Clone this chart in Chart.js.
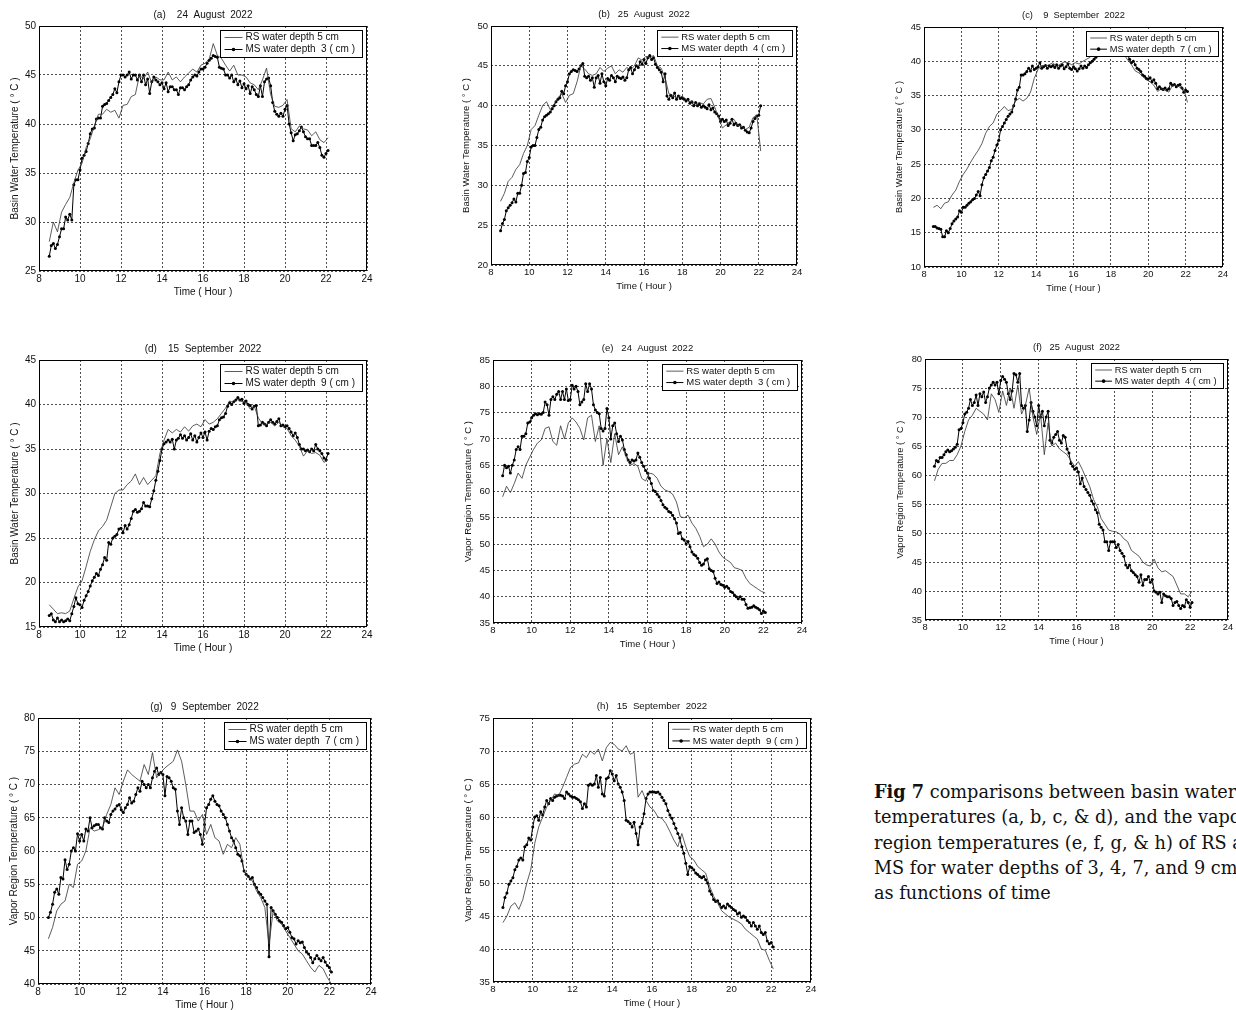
<!DOCTYPE html>
<html><head><meta charset="utf-8">
<script src="https://cdn.jsdelivr.net/npm/chart.js@4.4.1/dist/chart.umd.min.js"></script>
<style>
html,body{margin:0;padding:0;background:#fff;overflow:hidden;width:1236px;height:1010px;position:relative;}
.panel{position:absolute;}
#caption{position:absolute;left:874px;top:779px;font-family:"DejaVu Serif",serif;font-size:17.7px;line-height:25.3px;color:#111;white-space:nowrap;}
</style></head><body>
<div id="caption"><b>Fig 7</b> comparisons between basin water<br>temperatures (a, b, c, &amp; d), and the vapor<br>region temperatures (e, f, g, &amp; h) of RS and<br>MS for water depths of 3, 4, 7, and 9 cm<br>as functions of time</div>
<script>
// ---------- time axes (hours) ----------
const timeMS = [
8.5,8.6,8.7,8.8,8.9,
9.0,9.1,9.2,9.3,9.4,9.5,9.6,9.7,9.8,9.9,
10.0,10.1,10.2,10.3,10.4,10.5,10.6,10.7,10.8,10.9,
11.0,11.1,11.2,11.3,11.4,11.5,11.6,11.7,11.8,11.9,
12.0,12.1,12.2,12.3,12.4,12.5,12.6,12.7,12.8,12.9,
13.0,13.1,13.2,13.3,13.4,13.5,13.6,13.7,13.8,13.9,
14.0,14.1,14.2,14.3,14.4,14.5,14.6,14.7,14.8,14.9,
15.0,15.1,15.2,15.3,15.4,15.5,15.6,15.7,15.8,15.9,
16.0,16.1,16.2,16.3,16.4,16.5,16.6,16.7,16.8,16.9,
17.0,17.1,17.2,17.3,17.4,17.5,17.6,17.7,17.8,17.9,
18.0,18.1,18.2,18.3,18.4,18.5,18.6,18.7,18.8,18.9,
19.0,19.1,19.2,19.3,19.4,19.5,19.6,19.7,19.8,19.9,
20.0,20.1,20.2,20.3,20.4,20.5,20.6,20.7,20.8,20.9,
21.0,21.1,21.2,21.3,21.4,21.5,21.6,21.7,21.8,21.9,
22.0,22.1];
const timeRS = [
8.5,8.7,8.9,
9.1,9.3,9.5,9.7,9.9,
10.1,10.3,10.5,10.7,10.9,
11.1,11.3,11.5,11.7,11.9,
12.1,12.3,12.5,12.7,12.9,
13.1,13.3,13.5,13.7,13.9,
14.1,14.3,14.5,14.7,14.9,
15.1,15.3,15.5,15.7,15.9,
16.1,16.3,16.5,16.7,16.9,
17.1,17.3,17.5,17.7,17.9,
18.1,18.3,18.5,18.7,18.9,
19.1,19.3,19.5,19.7,19.9,
20.1,20.3,20.5,20.7,20.9,
21.1,21.3,21.5,21.7,21.9,
22.1];

// ---------- (a) basin water, 24 August 2022 ----------
const msA = [
26.5,27.6,27.8,27.3,27.7,
28.5,29.3,29.3,30.5,30.2,30.8,30.2,33.8,34.3,34.3,
35.3,36.5,36.8,37.2,38.0,39.0,39.5,39.6,40.5,40.6,
40.6,41.8,42.0,42.1,42.4,42.7,43.0,43.6,43.2,44.3,
45.0,45.0,44.8,45.0,45.3,44.6,45.0,45.0,44.5,45.0,
44.3,45.0,44.0,44.6,43.1,44.3,44.8,44.5,44.3,44.0,
44.2,43.6,44.2,43.3,43.8,43.8,43.5,43.5,43.0,43.7,
43.7,43.5,43.8,44.0,44.5,44.8,45.0,44.9,45.3,45.6,
45.6,45.8,46.2,46.5,46.7,47.0,46.9,46.8,45.8,45.7,
45.6,45.0,45.0,44.7,45.0,44.3,44.6,44.0,44.4,43.7,
44.1,43.6,43.9,43.1,43.8,43.5,43.0,42.8,43.9,42.8,
44.3,44.6,44.7,43.9,42.2,41.3,41.0,40.8,41.1,40.8,
41.5,41.9,40.0,39.1,38.3,38.9,39.0,39.3,39.7,39.2,
38.7,38.5,38.5,37.8,37.8,37.8,38.1,37.6,36.8,36.6,
37.0,37.3];
const rsA = [
28.0,30.0,29.0,
31.0,31.8,32.5,34.0,35.3,
36.0,37.6,38.5,39.8,41.0,
41.0,41.5,41.2,41.4,40.6,
41.9,42.0,42.8,43.0,45.0,
44.6,45.3,44.2,44.8,44.5,
44.5,45.3,44.5,44.8,44.3,
44.8,45.2,45.6,45.3,46.0,
46.2,46.6,48.2,47.0,46.7,
46.0,45.4,46.0,45.0,45.0,
44.8,44.2,44.0,43.5,44.5,
45.7,43.0,41.8,41.7,41.9,
42.5,39.5,39.2,39.8,39.5,
39.4,38.8,39.2,38.4,38.1,
38.6];

// ---------- (b) basin water, 25 August 2022 ----------
const msB = [
24.3,25.2,25.7,26.8,27.2,
27.5,27.8,28.3,27.9,29.0,29.0,30.0,31.5,31.6,33.0,
33.5,34.8,35.0,35.0,36.0,37.0,37.3,38.2,38.6,38.8,
39.0,39.2,39.6,40.0,40.5,40.8,41.0,41.8,41.5,42.5,
43.0,44.0,44.3,44.5,44.4,44.3,44.6,45.0,45.3,43.7,
43.5,43.7,43.2,43.5,42.3,43.5,43.8,42.8,44.0,43.0,
42.5,43.4,43.2,43.8,43.5,43.0,43.7,43.5,43.4,43.6,
43.2,43.5,44.5,44.8,44.0,44.5,45.0,44.8,45.5,45.2,
45.8,45.3,46.0,46.3,45.8,46.0,45.2,44.8,44.5,44.2,
43.0,44.0,41.2,40.8,41.3,41.0,41.6,40.8,41.2,40.9,
41.0,40.8,40.6,40.8,40.3,40.5,40.0,40.4,40.0,40.2,
39.8,40.0,39.8,39.6,40.1,39.5,39.7,39.2,39.0,38.7,
38.0,38.3,38.0,38.2,37.5,37.8,38.3,37.6,37.8,37.5,
37.6,37.2,37.3,36.9,36.7,36.6,37.2,38.0,38.4,38.7,
38.8,40.0];
const rsB = [
28.0,29.0,30.5,
31.0,32.0,32.6,34.0,35.0,
37.0,37.5,38.8,40.0,40.5,
39.5,40.2,41.0,41.5,40.4,
41.3,41.5,43.0,45.0,44.6,
44.0,43.8,44.0,44.8,44.3,
44.7,45.0,44.0,44.5,44.2,
44.8,44.5,45.0,46.0,45.7,
46.2,46.0,46.3,45.0,44.7,
43.5,41.5,41.3,41.0,41.2,
41.0,40.6,40.5,40.2,40.4,
40.2,40.8,40.9,39.8,38.5,
37.2,37.6,38.0,38.3,37.5,
37.5,37.0,37.3,38.5,38.8,
34.3];

// ---------- (c) basin water, 9 September 2022 ----------
const msC = [
15.9,15.9,15.7,15.6,15.5,
14.4,14.4,15.3,15.0,15.6,16.3,16.7,17.0,17.3,18.2,
18.0,18.7,18.7,19.0,19.3,19.5,19.8,20.0,20.5,21.0,
20.4,22.0,23.0,23.5,24.0,24.5,25.5,26.0,27.0,27.8,
28.5,30.0,30.5,31.0,31.5,32.0,32.3,32.6,33.5,34.5,
35.8,36.2,38.0,38.0,38.2,38.5,39.0,38.6,39.3,38.8,
39.0,39.2,39.8,39.0,39.2,39.4,39.0,39.3,39.2,39.4,
39.1,39.5,39.0,39.3,39.5,38.9,39.2,39.6,39.0,38.8,
39.2,38.9,38.6,38.9,39.3,39.0,39.3,39.1,39.5,39.8,
40.0,40.3,40.6,41.2,41.5,41.8,41.6,41.8,42.0,41.8,
41.8,42.0,41.8,41.6,41.8,41.7,41.5,41.6,41.3,40.9,
40.3,39.8,40.0,39.5,39.0,38.8,38.5,38.0,37.8,37.5,
37.4,37.6,37.0,37.3,36.8,36.0,36.3,36.0,35.9,36.1,
35.8,36.0,36.8,36.5,36.6,36.3,36.5,36.6,36.1,35.5,
35.8,35.6];
const rsC = [
18.7,19.0,18.5,
19.3,19.5,20.5,21.2,22.5,
23.5,24.3,25.3,26.2,27.0,
28.0,29.5,30.5,31.0,32.3,
32.8,33.4,32.8,33.0,34.2,
34.6,34.2,34.6,35.5,37.5,
38.8,39.4,39.3,39.5,39.8,
39.2,39.6,39.9,39.8,39.5,
39.8,39.6,40.0,40.3,40.6,
41.3,41.6,41.8,41.6,41.7,
41.5,41.6,41.3,41.0,40.2,
39.5,38.6,38.3,37.8,37.3,
37.0,36.5,35.6,36.0,35.8,
35.5,36.5,36.5,36.2,36.0,
34.0];

// ---------- (d) basin water, 15 September 2022 ----------
const msD = [
16.3,16.5,15.8,15.6,16.0,
15.6,15.8,15.6,15.7,15.9,15.7,16.5,17.3,18.3,17.6,
17.5,17.2,18.0,18.5,19.0,19.6,20.2,20.6,21.0,20.8,
21.5,22.0,22.8,22.5,24.5,24.3,25.0,25.2,25.4,26.0,
26.1,25.6,26.4,26.0,26.5,27.2,28.0,28.2,27.9,28.0,
28.3,29.0,28.6,28.6,28.5,29.4,30.3,31.5,32.5,33.7,
35.0,35.6,35.8,36.0,35.8,36.1,35.0,36.0,36.2,36.6,
36.2,36.5,36.0,36.3,36.7,36.0,36.5,35.8,36.3,36.8,
36.3,36.9,36.0,37.0,37.3,37.2,37.5,37.6,38.3,38.5,
38.6,39.0,39.8,40.2,40.0,40.3,40.5,40.8,40.5,40.6,
40.1,40.4,40.0,39.9,39.5,39.8,39.9,37.6,37.7,38.0,
37.8,37.6,38.0,38.3,38.0,37.8,38.1,38.4,37.6,37.7,
37.5,37.6,37.3,36.9,36.5,36.8,36.3,35.5,35.0,35.0,
34.8,34.9,34.7,35.0,34.8,35.5,35.0,34.8,34.5,34.0,
33.8,34.5];
const rsD = [
17.5,17.0,16.5,
16.6,16.5,16.8,18.2,19.5,
20.2,21.8,23.5,24.8,25.8,
26.3,27.0,28.5,30.0,30.4,
30.4,31.0,31.4,32.2,31.0,
31.8,31.0,31.5,32.0,34.5,
36.0,37.2,36.8,37.2,36.9,
37.5,37.0,37.6,37.8,37.5,
38.3,37.8,38.0,38.4,39.0,
39.6,40.4,40.2,40.6,40.3,
40.2,39.5,39.8,38.5,37.8,
37.8,38.0,37.6,38.0,37.5,
37.3,36.5,36.0,35.3,34.2,
34.8,34.5,34.6,34.3,33.5,
33.8];

// ---------- (e) vapor region, 24 August 2022 ----------
const msE = [
63.0,65.0,64.5,64.8,63.5,
65.0,66.0,68.0,68.5,68.0,70.5,70.5,71.0,73.0,73.2,
74.0,74.5,74.8,74.6,74.8,74.7,75.0,77.0,76.5,74.5,
77.5,78.0,77.5,78.5,79.0,77.5,79.0,77.5,79.5,77.3,
77.5,80.2,79.5,80.0,79.0,76.5,77.0,77.5,80.5,79.0,
80.5,79.5,76.5,75.5,75.0,74.8,72.0,71.5,72.0,75.8,
74.0,70.0,72.5,73.0,71.0,69.5,70.5,69.8,68.0,67.0,
66.0,65.5,66.0,65.8,66.0,67.3,66.5,65.5,64.8,64.0,
63.5,62.5,61.5,60.2,60.0,59.5,59.0,58.3,57.5,57.0,
56.7,56.2,56.0,55.5,54.8,54.0,52.0,52.2,51.0,50.8,
50.0,50.5,49.5,48.5,48.0,47.8,47.3,46.5,46.0,46.2,
47.0,47.2,45.3,45.0,44.8,43.5,42.5,42.8,42.3,42.2,
41.8,42.0,41.6,41.0,40.8,40.3,40.0,39.6,40.0,39.5,
39.5,38.5,37.8,37.9,38.0,38.3,38.0,37.8,37.5,36.8,
37.3,37.0];
const rsE = [
59.0,61.0,59.8,
61.5,63.5,62.5,65.0,66.5,
68.0,69.2,69.8,72.0,72.3,
69.5,68.8,72.5,70.0,73.0,
74.0,73.2,72.0,69.8,74.0,
74.5,69.5,72.5,65.0,70.0,
65.5,71.0,67.0,68.5,66.5,
65.0,65.3,64.8,62.5,62.0,
63.5,63.3,62.5,61.0,60.3,
60.0,59.5,58.0,55.2,55.0,
55.5,54.0,53.0,51.5,49.5,
50.0,51.0,50.0,48.5,47.5,
47.0,46.5,45.5,45.3,45.0,
43.5,42.5,42.0,41.5,41.0,
40.7];

// ---------- (f) vapor region, 25 August 2022 ----------
const msF = [
61.5,62.5,62.3,63.0,63.0,
63.5,64.0,64.3,64.0,64.2,64.5,64.8,65.3,67.8,68.0,
69.0,70.5,70.8,71.5,73.0,72.0,72.5,73.8,72.0,74.0,
73.5,74.3,72.5,73.5,75.0,75.5,76.0,75.5,76.0,74.0,
76.3,77.0,76.5,76.0,74.0,73.0,74.5,77.5,77.3,76.0,
77.5,72.0,71.5,72.0,67.5,69.5,72.5,71.0,70.0,68.5,
72.0,70.0,71.0,68.5,70.0,71.0,66.0,65.5,66.5,67.0,
67.5,66.0,65.5,66.8,66.5,64.5,63.8,62.0,61.5,61.0,
61.2,60.5,58.5,59.5,58.0,57.5,57.0,56.5,55.5,55.0,
54.0,53.5,51.5,51.0,50.5,48.5,48.5,47.0,48.5,48.5,
48.5,47.5,48.0,47.0,46.5,46.0,44.5,44.0,44.5,43.5,
43.2,42.8,42.5,41.5,42.8,41.0,42.0,42.0,42.5,41.5,
42.0,40.0,39.8,39.5,39.8,38.0,39.5,39.2,39.0,39.0,
38.7,37.5,38.0,38.2,37.5,37.0,37.5,37.3,38.5,38.0,
37.2,38.0];
const rsF = [
59.0,61.0,62.0,
62.0,62.5,62.5,63.5,65.0,
67.5,69.5,70.3,71.5,71.0,
70.5,69.5,74.0,73.0,70.8,
74.5,72.0,75.0,71.5,75.5,
70.5,72.0,75.0,70.0,67.0,
70.5,63.5,69.0,65.0,65.5,
64.5,64.0,63.5,62.5,61.5,
62.3,61.0,59.5,58.0,55.8,
54.5,52.5,51.5,50.5,50.3,
50.2,49.8,49.0,48.5,47.0,
46.5,46.0,45.0,44.5,44.3,
45.5,44.0,43.3,43.5,43.0,
42.5,41.0,39.5,39.5,39.0,
40.0];

// ---------- (g) vapor region, 9 September 2022 ----------
const msG = [
50.0,50.8,52.0,53.8,54.3,
53.5,56.0,55.8,58.7,57.2,58.0,60.0,60.5,60.0,62.6,
61.5,62.5,61.5,63.3,63.0,65.0,63.5,63.8,64.0,64.0,
63.5,63.3,65.0,64.5,64.3,65.5,66.0,66.3,66.8,67.0,
66.2,65.8,66.5,67.0,68.0,67.2,67.5,68.5,69.5,69.0,
70.5,70.0,69.5,70.0,69.5,71.0,72.0,72.5,71.5,71.8,
71.5,68.3,71.2,71.0,70.5,69.5,69.3,66.0,64.0,66.5,
65.0,64.5,62.5,64.5,64.5,62.8,63.0,63.3,62.5,61.0,
64.0,66.5,67.0,67.8,68.3,67.5,67.0,66.8,66.0,65.5,
65.0,64.0,63.0,62.0,61.5,60.5,59.5,59.3,58.5,57.0,
56.5,56.2,55.8,56.0,55.0,54.5,53.8,53.5,53.0,52.5,
52.0,44.1,51.5,51.0,50.5,50.0,49.5,49.3,48.8,48.3,
48.5,47.8,47.0,46.8,46.0,46.5,46.2,46.3,45.5,44.8,
44.5,44.0,43.2,43.8,44.3,43.8,43.5,44.0,43.3,42.8,
42.5,41.8];
const rsG = [
46.8,48.5,51.0,
52.0,52.5,55.0,54.5,58.0,
58.5,60.0,63.5,63.0,63.2,
63.5,65.5,67.0,69.5,68.5,
70.5,72.2,71.5,71.0,70.5,
73.0,71.5,74.8,71.0,71.8,
72.5,73.0,73.5,75.2,73.5,
70.0,66.0,66.0,64.5,65.5,
62.5,64.0,62.0,61.5,59.5,
61.0,60.5,62.0,61.0,57.0,
56.0,55.5,54.0,53.0,51.5,
46.0,51.0,49.5,49.0,48.0,
47.0,46.0,45.0,44.5,43.5,
42.5,41.8,42.8,42.3,41.0,
40.0];

// ---------- (h) vapor region, 15 September 2022 ----------
const msH = [
46.3,47.8,48.5,49.8,50.3,
50.8,52.0,52.5,53.5,53.8,53.5,55.5,55.8,56.8,56.5,
58.5,60.0,60.2,59.5,60.8,60.3,61.5,62.5,62.0,62.8,
62.5,63.0,63.2,63.3,63.3,63.2,62.8,63.8,63.5,63.2,
63.0,63.0,62.8,62.6,62.3,61.3,62.0,61.5,64.8,65.0,
64.8,65.0,66.3,64.5,66.0,63.5,63.2,65.8,66.0,67.0,
66.5,65.5,66.3,65.0,64.5,63.8,62.5,59.5,59.3,59.0,
58.5,59.2,57.5,55.8,58.5,59.0,60.5,62.8,63.5,63.8,
63.8,63.8,63.7,63.8,63.5,63.0,62.5,62.0,61.0,60.3,
59.8,59.0,58.3,57.5,56.8,55.5,54.5,53.0,51.3,52.5,
52.3,52.0,51.5,51.3,51.0,50.8,51.0,50.5,50.0,48.8,
48.3,47.5,47.2,47.3,46.8,46.3,46.5,46.2,46.8,46.5,
46.3,46.0,45.8,45.3,45.5,44.8,45.0,44.8,44.3,44.0,
43.5,44.0,43.5,43.0,43.5,42.5,42.2,42.5,41.2,40.8,
41.0,40.3];
const rsH = [
44.0,45.0,46.5,
47.0,46.0,47.5,50.0,52.0,
56.0,58.5,60.0,61.5,62.5,
63.5,63.2,64.5,66.0,67.5,
68.0,68.2,69.5,69.0,70.0,
69.5,70.3,68.5,70.5,71.3,
71.0,70.3,70.0,70.8,69.5,
69.8,63.0,64.0,62.5,61.5,
61.0,60.0,59.8,59.0,57.8,
56.5,55.5,57.5,55.5,54.0,
53.5,52.5,52.0,51.5,49.5,
48.0,47.0,45.8,45.3,44.8,
44.5,44.2,43.8,43.0,42.5,
42.0,41.5,40.0,39.8,38.3,
37.0];

// ---------- labels ----------
const panelTitles = ['(a)    24  August  2022','(b)   25  August  2022','(c)    9  September  2022','(d)    15  September  2022',
                     '(e)   24  August  2022','(f)   25  August  2022','(g)   9  September  2022','(h)   15  September  2022'];
const depths = ['3','4','7','9','3','4','7','9'];
const yTitles = ['Basin Water Temperature ( ° C )','Vapor Region Temperature ( ° C )'];
const xTitle = 'Time ( Hour )';
const yRanges = [[25,50],[20,50],[10,45],[15,45],[35,85],[35,80],[40,80],[35,75]];
const msSeries = [msA,msB,msC,msD,msE,msF,msG,msH];
const rsSeries = [rsA,rsB,rsC,rsD,rsE,rsF,rsG,rsH];

// ---------- layout (plot-area rectangles in page px: left, top, right, bottom) ----------
const plotBoxes = [[39,26,367,271],[491,26,797,265],[924,27,1223,267],[39,360,367,627],
                   [493,360,802,623],[925,359,1228,620],[38,718,371,984],[493,718,811,982]];
const fontSizes = [10,9.5,9.3,10,9.5,9.3,10,9.7];

const FONT = '"Liberation Sans", Arial, Helvetica, sans-serif';
const Y_W = 39, X_H = 27, TOP_H = 22, RIGHT_P = 12;

const frameLegend = {
  id: 'frameLegend',
  afterDatasetsDraw(chart, args, opts) {
    const {ctx, chartArea: ca} = chart;
    const fs = opts.fs || 10, k = fs / 10;
    ctx.save();
    ctx.strokeStyle = '#000'; ctx.lineWidth = 1; ctx.setLineDash([]);
    const l = Math.round(ca.left) + 0.5, t = Math.round(ca.top) + 0.5;
    const r = Math.round(ca.right) - 0.5, b = Math.round(ca.bottom) - 0.5;
    ctx.strokeRect(l, t, r - l, b - t);
    ctx.font = fs + 'px ' + FONT;
    const ds = chart.data.datasets;
    let tw = 0;
    ds.forEach(d => { tw = Math.max(tw, ctx.measureText(d.label).width); });
    const bw = Math.round(33 * k + tw), bh = Math.round(27 * k);
    const bx = Math.round(ca.right - 5 - bw) + 0.5, by = Math.round(ca.top + 4) + 0.5;
    ctx.fillStyle = '#fff'; ctx.fillRect(bx, by, bw, bh);
    ctx.strokeStyle = '#000'; ctx.lineWidth = 1; ctx.strokeRect(bx, by, bw, bh);
    ds.forEach((d, i) => {
      const cy = by + (7 + 12 * i) * k;
      const x1 = bx + 4 * k, x2 = x1 + 18 * k;
      ctx.strokeStyle = d.borderColor; ctx.lineWidth = d.borderWidth;
      ctx.beginPath(); ctx.moveTo(x1, cy); ctx.lineTo(x2, cy); ctx.stroke();
      if (d.pointRadius > 0) {
        ctx.fillStyle = d.pointBackgroundColor;
        ctx.beginPath(); ctx.arc((x1 + x2) / 2, cy, d.pointRadius + 0.3, 0, Math.PI * 2); ctx.fill();
      }
      ctx.fillStyle = '#111'; ctx.textBaseline = 'middle'; ctx.textAlign = 'left';
      ctx.fillText(d.label, x2 + 3 * k, cy);
    });
    ctx.restore();
  }
};

function toPoints(times, vals, name) {
  if (times.length !== vals.length) throw new Error('length mismatch ' + name + ': ' + vals.length + ' vs ' + times.length);
  return times.map((t, i) => ({x: t, y: vals[i]}));
}

const names = 'abcdefgh';
for (let p = 0; p < 8; p++) {
  const [L, T, R, B] = plotBoxes[p];
  const fs = fontSizes[p];
  const w = (R - L) + Y_W + RIGHT_P, h = (B - T) + TOP_H + X_H;
  const div = document.createElement('div');
  div.className = 'panel';
  div.style.left = (L - Y_W) + 'px'; div.style.top = (T - TOP_H) + 'px';
  div.style.width = w + 'px'; div.style.height = h + 'px';
  const cv = document.createElement('canvas');
  cv.width = w; cv.height = h; cv.style.width = w + 'px'; cv.style.height = h + 'px';
  div.appendChild(cv); document.body.appendChild(div);

  const axisCommon = {
    type: 'linear',
    grid: {color: '#222', lineWidth: 0.8, drawTicks: false},
    border: {display: false, dash: [2, 2]},
  };
  new Chart(cv, {
    type: 'line',
    data: {datasets: [
      {label: 'RS water depth 5 cm', data: toPoints(timeRS, rsSeries[p], 'rs' + names[p]),
       borderColor: '#333', borderWidth: 0.8, pointRadius: 0, tension: 0},
      {label: 'MS water depth  ' + depths[p] + ' ( cm )', data: toPoints(timeMS, msSeries[p], 'ms' + names[p]),
       borderColor: '#000', borderWidth: 1, pointRadius: 1.5, pointBorderWidth: 0,
       pointBackgroundColor: '#000', tension: 0}
    ]},
    options: {
      responsive: false, animation: false, devicePixelRatio: 1,
      events: [],
      layout: {padding: {left: 0, top: 0, right: RIGHT_P, bottom: 0}},
      plugins: {
        legend: {display: false}, tooltip: {enabled: false},
        title: {display: true, text: panelTitles[p], fullSize: false, color: '#111',
                font: {family: FONT, size: fs, weight: 'normal', lineHeight: 1.2},
                padding: {top: 5, bottom: TOP_H - 5 - fs * 1.2}},
        frameLegend: {fs: fs}
      },
      scales: {
        x: Object.assign({}, axisCommon, {
          min: 8, max: 24,
          ticks: {stepSize: 2, color: '#111', padding: 2, font: {family: FONT, size: fs}, maxRotation: 0},
          title: {display: true, text: xTitle, color: '#111', font: {family: FONT, size: fs, lineHeight: 1.2}, padding: {top: 0, bottom: 0}},
          afterFit: s => { s.height = X_H; }
        }),
        y: Object.assign({}, axisCommon, {
          min: yRanges[p][0], max: yRanges[p][1],
          ticks: {stepSize: 5, color: '#111', padding: 3, font: {family: FONT, size: fs}},
          title: {display: true, text: yTitles[p < 4 ? 0 : 1], color: '#111', font: {family: FONT, size: fs, lineHeight: 1.2}, padding: {top: 9, bottom: 0}},
          afterFit: s => { s.width = Y_W; }
        })
      }
    },
    plugins: [frameLegend]
  });
}
</script>
</body></html>
